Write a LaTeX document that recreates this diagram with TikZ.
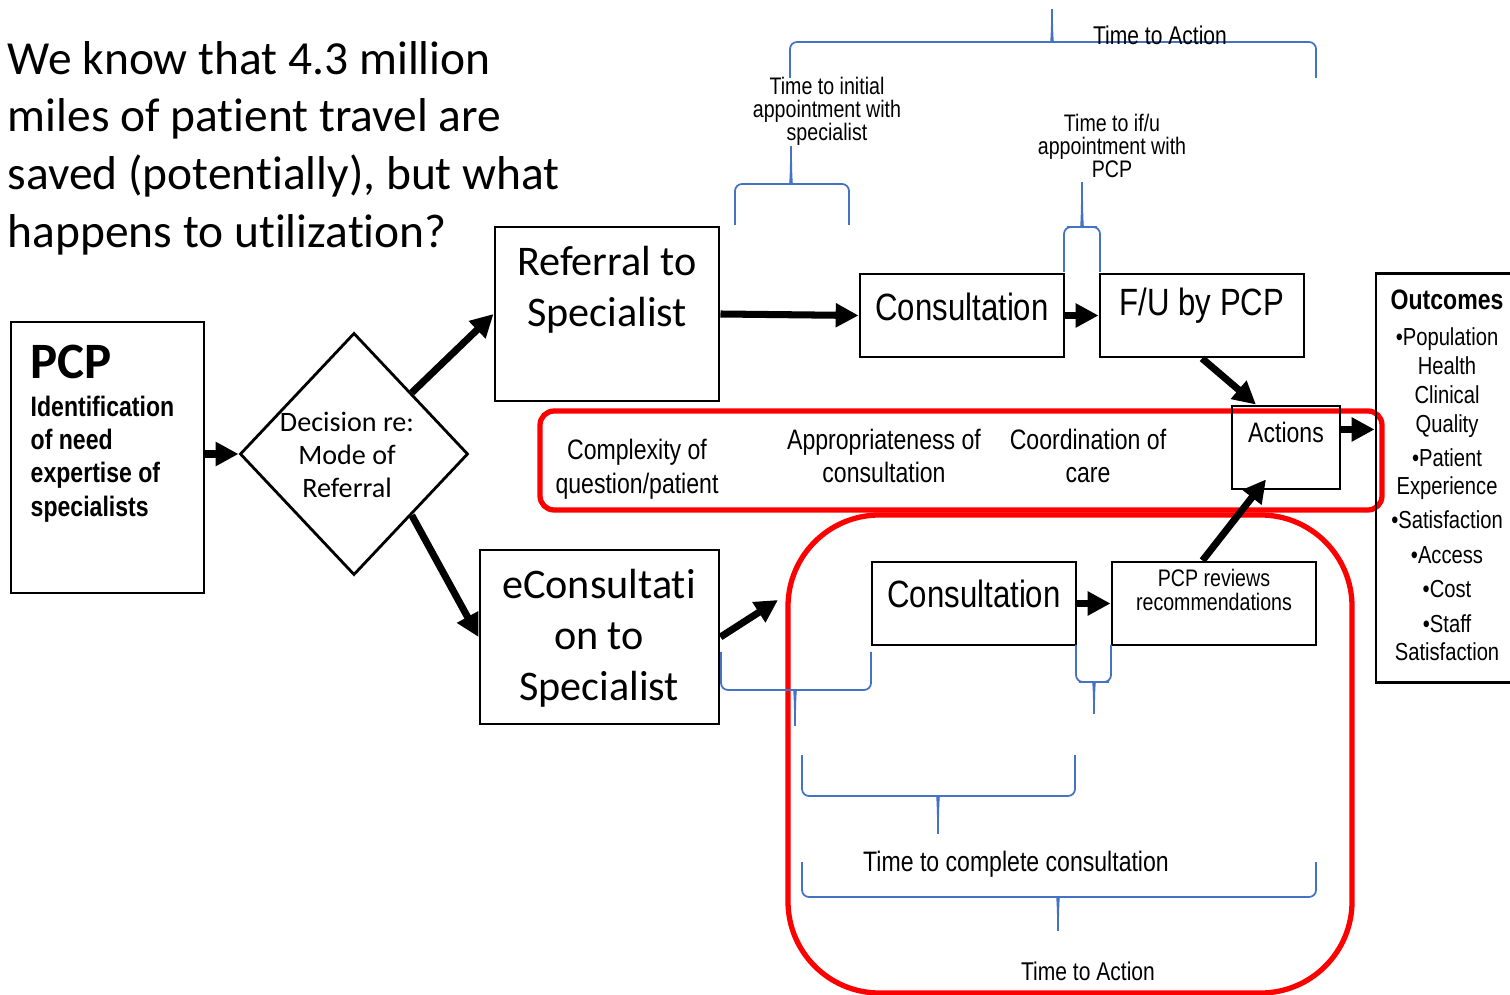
\documentclass[tikz,border=0pt]{standalone}
\usepackage{fontspec}
\setmainfont{Liberation Sans}[FakeStretch=0.82]
\newfontfamily\calibrifont{Carlito}[Ligatures=NoCommon]
\usetikzlibrary{shapes.geometric, arrows.meta, calc}
\definecolor{bracketblue}{RGB}{68,114,196}
\definecolor{framered}{RGB}{255,0,0}
% brace: x-left, x-right, x-tip, y-arms, y-bar, y-tip
\newcommand{\timebrace}[6]{%
  \draw[bracket] (#1,#4) |- ({#3-8},#5) .. controls ({#3-1},#5) and (#3,{#5+(#6-#5)*0.2}) .. (#3,#6)
    .. controls (#3,{#5+(#6-#5)*0.2}) and ({#3+1},#5) .. ({#3+8},#5) -| (#2,#4);}

\begin{document}
\begin{tikzpicture}[x=0.01cm, y=-0.01cm,
    box/.style={draw, line width=0.8pt, inner sep=0pt},
    lbl/.style={inner sep=0pt, align=center},
    flow/.style={-{Triangle[length=6.5pt, width=6.5pt]}, line width=2pt},
    bracket/.style={draw=bracketblue, line width=0.5pt, rounded corners=2pt},
    region/.style={draw=framered, line width=1.5pt}]
\useasboundingbox (0,0) rectangle (1510,995);

% question
\node[lbl, align=left, anchor=west, font=\calibrifont\fontsize{13.5}{16.4}\selectfont] (question) at (7,148)
  {We know that 4.3 million\\miles of patient travel are\\saved (potentially), but what\\happens to utilization?};

% red regions
\draw[region, rounded corners=4pt] (540,411) rectangle (1382,510);
\draw[region, rounded corners=26pt] (788,515) rectangle (1352,993);

% boxes
\node[box, minimum width=1.93cm, minimum height=2.71cm] (pcp) at (107.5,457.5) {};
\node[box, diamond, minimum width=2.28cm, minimum height=2.42cm] (decision) at (354,454) {};
\node[box, minimum width=2.24cm, minimum height=1.74cm] (referral) at (607,314) {};
\node[box, minimum width=2.39cm, minimum height=1.74cm] (econsult) at (599.5,637) {};
\node[box, minimum width=2.04cm, minimum height=0.83cm] (consulttop) at (962,315.5) {};
\node[box, minimum width=2.04cm, minimum height=0.83cm] (fu) at (1202,315.5) {};
\node[box, minimum width=1.08cm, minimum height=0.83cm] (actions) at (1286,447.5) {};
\node[box, minimum width=2.04cm, minimum height=0.83cm] (consultbot) at (974,603.5) {};
\node[box, minimum width=2.04cm, minimum height=0.83cm] (reviews) at (1214,603.5) {};
\node[box, minimum width=1.44cm, minimum height=4.08cm] (outcomes) at (1448,478) {};

% box texts
\node[lbl, anchor=west, font=\calibrifont\bfseries\fontsize{14.5}{16}\selectfont] (pcptitle) at (30,362) {PCP};
\node[lbl, align=left, anchor=west, font=\bfseries\fontsize{8}{9.5}\selectfont] (pcptext) at (30,459)
  {Identification\\of need\\expertise of\\specialists};
\node[lbl, font=\calibrifont\fontsize{8}{9.4}\selectfont] (decisiontext) at (347,455) {Decision re:\\Mode of\\Referral};
\node[lbl, font=\calibrifont\fontsize{12}{14.5}\selectfont] (referraltext) at (607,290) {Referral to\\Specialist};
\node[lbl, font=\calibrifont\fontsize{12}{14.5}\selectfont] (econsulttext) at (599,638) {eConsultati\\on to\\Specialist};
\node[lbl, font=\fontsize{10.8}{12}\selectfont] (consulttoptext) at (962,307) {Consultation};
\node[lbl, font=\fontsize{10.8}{12}\selectfont] (futext) at (1202,306) {F/U by PCP};
\node[lbl, font=\fontsize{10.8}{12}\selectfont] (consultbottext) at (974,594) {Consultation};
\node[lbl, font=\fontsize{6.8}{6.6}\selectfont] (reviewstext) at (1214,590) {PCP reviews\\recommendations};
\node[lbl, font=\fontsize{8}{9}\selectfont] (actionstext) at (1286,432) {Actions};
\node[lbl, font=\bfseries\fontsize{8}{9}\selectfont] (outcomestitle) at (1447,300) {Outcomes};
\node[lbl, font=\fontsize{7}{8.2}\selectfont] (outcomeslist) at (1447,494.5)
  {•Population\\Health\\Clinical\\Quality\\[1.4pt]•Patient\\Experience\\[1.4pt]•Satisfaction\\[1.6pt]•Access\\[1.6pt]•Cost\\[1.6pt]•Staff\\Satisfaction};

% texts in the red band
\node[lbl, font=\fontsize{8}{9.6}\selectfont] (complexity) at (637,469) {Complexity of\\question/patient};
\node[lbl, font=\fontsize{8}{9.4}\selectfont] (appropriate) at (884,456) {Appropriateness of\\consultation};
\node[lbl, font=\fontsize{8}{9.4}\selectfont] (coordination) at (1088,456) {Coordination of\\care};

% arrows
\draw[flow] (pcp.east |- decision.west) -- (decision.west);
\draw[flow] (decision.north east) -- (referral.west);
\draw[flow] (decision.south east) -- (econsult.west);
\draw[flow] (referral.east) -- (consulttop.west);
\draw[flow] (consulttop.east) -- (fu.west);
\draw[flow] (fu.south) -- (actions.125);
\coordinate (econsultout) at (778,600);
\draw[flow] (econsult.east) -- (econsultout);
\draw[flow] (consultbot.east) -- (reviews.west);
\coordinate (actionsin) at ($(actions.south)+(-20,-11)$);
\draw[flow] (reviews.105) -- (actionsin);
\coordinate (actionsout) at ($(actions.north east)!0.29!(actions.south east)$);
\draw[flow] (actionsout) -- (actionsout -| outcomes.west);

% time braces
\timebrace{790}{1316}{1052}{78}{42}{5}
\timebrace{735}{849}{791}{225}{184}{142}
\timebrace{1064}{1100}{1082}{272}{227}{178}
\timebrace{721}{871}{795}{652}{690}{730}
\timebrace{1076}{1111}{1094}{645}{682}{718}
\timebrace{802}{1075}{938}{755}{796}{838}
\timebrace{802}{1316}{1058}{862}{897}{935}

% brace labels
\node[lbl, font=\fontsize{7.3}{8}\selectfont] (actiontop) at (1160,35) {Time to Action};
\node[lbl, font=\fontsize{6.8}{6.5}\selectfont] (initialtime) at (827,111) {Time to initial\\appointment with\\specialist};
\node[lbl, font=\fontsize{6.8}{6.5}\selectfont] (futime) at (1112,146) {Time to if/u\\appointment with\\PCP};
\node[lbl, font=\fontsize{8}{9}\selectfont] (completetime) at (1016,864) {Time to complete consultation};
\node[lbl, font=\fontsize{7.3}{8}\selectfont] (actionbot) at (1088,971) {Time to Action};
\end{tikzpicture}
\end{document}
